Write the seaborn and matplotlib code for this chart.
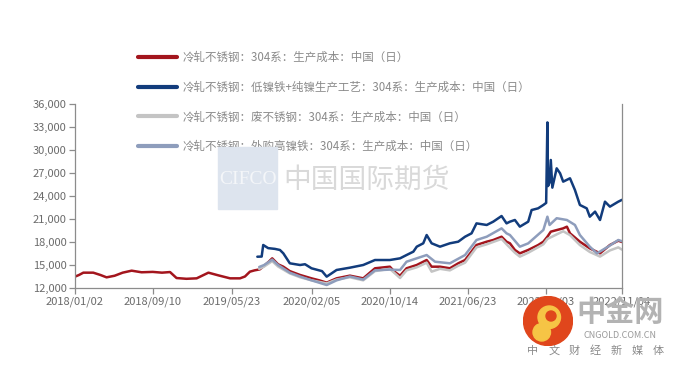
import numpy as np
import pandas as pd
import matplotlib.pyplot as plt
import matplotlib.dates as mdates
from matplotlib.patches import Rectangle, Circle
import seaborn as sns

# 冷轧不锈钢：304系：生产成本：中国（日）
red_dates = ["2018-01-02", "2018-01-15", "2018-01-29", "2018-03-02", "2018-03-25", "2018-04-14",
             "2018-05-10", "2018-06-05", "2018-07-04", "2018-08-05", "2018-09-10", "2018-10-10",
             "2018-11-05", "2018-11-26", "2018-12-28", "2019-01-30", "2019-03-09", "2019-04-10",
             "2019-05-18", "2019-06-19", "2019-07-05", "2019-07-21", "2019-08-05", "2019-08-22",
             "2019-09-05", "2019-09-20", "2019-10-01", "2019-10-20", "2019-11-06", "2019-11-27",
             "2019-12-30", "2020-02-05", "2020-03-01", "2020-03-25", "2020-04-26", "2020-06-08",
             "2020-07-21", "2020-08-28", "2020-10-15", "2020-10-30", "2020-11-17", "2020-12-08",
             "2021-01-10", "2021-02-11", "2021-02-27", "2021-03-26", "2021-04-27", "2021-05-24",
             "2021-06-15", "2021-07-22", "2021-08-24", "2021-09-14", "2021-10-11", "2021-10-27",
             "2021-11-07", "2021-11-23", "2021-12-09", "2022-01-05", "2022-02-06", "2022-02-23",
             "2022-03-08", "2022-03-19", "2022-04-28", "2022-05-10", "2022-05-20", "2022-06-21",
             "2022-07-23", "2022-08-25", "2022-09-26", "2022-10-23", "2022-11-04"]
red_vals = [13480, 13700, 14000, 14000, 13700, 13390,
            13600, 14000, 14260, 14050, 14100, 14000,
            14080, 13300, 13200, 13260, 14000, 13650,
            13260, 13260, 13500, 14130, 14300, 14430,
            14900, 15430, 15870, 15090, 14780, 14200,
            13700, 13260, 13000, 12700, 13260, 13610,
            13260, 14570, 14780, 14130, 13600, 14570,
            15000, 15650, 14780, 14780, 14570, 15220,
            15650, 17610, 18040, 18260, 18690, 18040,
            17830, 16960, 16520, 16960, 17600, 18040,
            18690, 19350, 19780, 20000, 19130, 18040,
            17170, 16520, 17610, 18170, 18000]

# 冷轧不锈钢：低镍铁+纯镍生产工艺：304系：生产成本：中国（日）
navy_dates = ["2019-08-14", "2019-08-28", "2019-09-02", "2019-09-18", "2019-10-10", "2019-10-26",
              "2019-11-06", "2019-11-27", "2019-12-30", "2020-01-15", "2020-02-05", "2020-03-10",
              "2020-03-25", "2020-04-26", "2020-06-08", "2020-07-21", "2020-08-28", "2020-10-15",
              "2020-11-17", "2020-12-08", "2020-12-30", "2021-01-10", "2021-01-31", "2021-02-11",
              "2021-02-27", "2021-03-26", "2021-04-27", "2021-05-24", "2021-06-15", "2021-07-06",
              "2021-07-22", "2021-08-24", "2021-09-14", "2021-10-11", "2021-10-27", "2021-11-07",
              "2021-11-23", "2021-12-09", "2022-01-05", "2022-01-16", "2022-02-06", "2022-02-23",
              "2022-03-04", "2022-03-08", "2022-03-10", "2022-03-15", "2022-03-19", "2022-03-24",
              "2022-04-07", "2022-04-18", "2022-04-28", "2022-05-20", "2022-06-05", "2022-06-21",
              "2022-07-13", "2022-07-23", "2022-08-09", "2022-08-25", "2022-09-10", "2022-09-26",
              "2022-10-23", "2022-11-04"]
navy_vals = [16080, 16100, 17610, 17200, 17100, 16960,
             16520, 15220, 15000, 15100, 14570, 14200,
             13480, 14350, 14650, 15000, 15650, 15650,
             15870, 16300, 16740, 17390, 17830, 18910,
             17830, 17390, 17830, 18040, 18690, 19130,
             20430, 20220, 20650, 21390, 20430, 20650,
             20870, 20000, 20650, 22170, 22390, 22830,
             23100, 33600, 25300, 25740, 28700, 25090,
             27610, 26960, 25870, 26310, 24780, 22830,
             22390, 21300, 21960, 20870, 23260, 22610,
             23260, 23500]

# 冷轧不锈钢：废不锈钢：304系：生产成本：中国（日）
gray_dates = ["2019-08-20", "2019-09-05", "2019-10-01", "2019-10-20", "2019-11-27", "2019-12-30",
              "2020-02-05", "2020-03-25", "2020-04-26", "2020-06-08", "2020-07-21", "2020-08-28",
              "2020-10-15", "2020-11-17", "2020-12-08", "2021-01-10", "2021-02-11", "2021-02-27",
              "2021-03-26", "2021-04-27", "2021-05-24", "2021-06-15", "2021-07-22", "2021-08-24",
              "2021-10-11", "2021-10-27", "2021-11-23", "2021-12-09", "2022-01-05", "2022-02-23",
              "2022-03-08", "2022-04-28", "2022-05-20", "2022-06-21", "2022-07-23", "2022-08-25",
              "2022-09-26", "2022-10-23", "2022-11-04"]
gray_vals = [14500, 14800, 15500, 14800, 13900, 13400,
             13000, 12600, 13100, 13400, 13000, 14200,
             14500, 13300, 14300, 14700, 15300, 14130,
             14500, 14300, 14900, 15300, 17300, 17700,
             18400, 17700, 16600, 16090, 16600, 17700,
             18400, 19400, 18900, 17600, 16700, 16100,
             16900, 17300, 17000]

# 冷轧不锈钢：外购高镍铁：304系：生产成本：中国（日）
steel_dates = ["2019-08-20", "2019-09-05", "2019-10-01", "2019-10-20", "2019-11-27", "2019-12-30",
               "2020-02-05", "2020-03-25", "2020-04-26", "2020-06-08", "2020-07-21", "2020-08-28",
               "2020-10-15", "2020-11-17", "2020-12-08", "2021-02-11", "2021-03-10", "2021-04-27",
               "2021-06-15", "2021-07-22", "2021-08-24", "2021-10-11", "2021-10-27", "2021-11-07",
               "2021-12-09", "2022-01-05", "2022-02-23", "2022-03-08", "2022-03-15", "2022-04-07",
               "2022-05-10", "2022-06-05", "2022-06-21", "2022-07-23", "2022-08-15", "2022-09-20",
               "2022-10-23", "2022-11-04"]
steel_vals = [14740, 15000, 15700, 15000, 14000, 13500,
              13000, 12390, 13000, 13500, 13100, 14300,
              14400, 14350, 15430, 16300, 15430, 15220,
              16300, 18260, 18690, 19780, 19130, 18910,
              17390, 17820, 19570, 21300, 20220, 21100,
              20870, 20220, 18910, 17390, 16520, 17390,
              18260, 18100]

labels = ["冷轧不锈钢：304系：生产成本：中国（日）",
          "冷轧不锈钢：低镍铁+纯镍生产工艺：304系：生产成本：中国（日）",
          "冷轧不锈钢：废不锈钢：304系：生产成本：中国（日）",
          "冷轧不锈钢：外购高镍铁：304系：生产成本：中国（日）"]
colors = ["#a3151d", "#123c7c", "#c4c4c4", "#8e9dbc"]

tick_dates = ["2018-01-02", "2018-09-10", "2019-05-23", "2020-02-05",
              "2020-10-14", "2021-06-23", "2022-03-03", "2022-11-04"]

sns.set_style("white")
plt.rcParams['font.family'] = ['Noto Sans CJK SC', 'DejaVu Sans']

fig = plt.figure(figsize=(6.8, 3.68), dpi=100)
ax = fig.add_axes([75 / 680, 1 - 288 / 368, (622 - 75) / 680, (288 - 104) / 368])

series = [(red_dates, red_vals), (navy_dates, navy_vals),
          (gray_dates, gray_vals), (steel_dates, steel_vals)]
for (d, v), lab, c in zip(series, labels, colors):
    df = pd.DataFrame({"date": pd.to_datetime(d), "value": v})
    sns.lineplot(data=df, x="date", y="value", ax=ax, color=c, linewidth=1.8, label=lab)

ax.set_xlim(pd.Timestamp("2018-01-02"), pd.Timestamp("2022-11-04"))
ax.set_ylim(12000, 36000)
ax.set_yticks(range(12000, 36001, 3000))
ax.yaxis.set_major_formatter(plt.FuncFormatter(lambda v, p: f"{int(v):,}"))
ax.set_xticks(pd.to_datetime(tick_dates))
ax.xaxis.set_major_formatter(mdates.DateFormatter("%Y/%m/%d"))
ax.set_xlabel("")
ax.set_ylabel("")

for s in ["left", "bottom", "right"]:
    ax.spines[s].set_color("#8c8c8c")
    ax.spines[s].set_linewidth(0.9)
ax.spines["top"].set_visible(False)
ax.tick_params(axis="both", length=4, width=0.9, color="#8c8c8c",
               labelsize=8, labelcolor="#6b6b6b", pad=2)
ax.tick_params(axis="y", left=True)
ax.tick_params(axis="x", bottom=True)

leg = ax.legend(loc="upper left", bbox_to_anchor=(138 / 680, 1 - 51 / 368),
                bbox_transform=fig.transFigure, frameon=False, fontsize=8.3,
                handlelength=3.4, handletextpad=0.5, labelspacing=1.45,
                borderpad=0, borderaxespad=0)
for t in leg.get_texts():
    t.set_color("#8a8a8a")
for h in leg.get_lines():
    h.set_linewidth(3)

# CIFCO watermark
fig.patches.append(Rectangle((218 / 680, 1 - 209 / 368), 59 / 680, 62 / 368,
                             transform=fig.transFigure, color="#dde4ee", zorder=0))
fig.text(248 / 680, 1 - 180 / 368, "CIFCO", family=["Liberation Serif", "DejaVu Serif"],
         fontsize=14, color="#f4f6f9", ha="center", va="center")
fig.text(283 / 680, 1 - 180 / 368, "中国国际期货", fontsize=20, color="#d9d9d9",
         ha="left", va="center")

# 中金网 logo
lax = fig.add_axes([523 / 680, 1 - 346 / 368, 50 / 680, 50 / 368])
lax.set_xlim(-1, 1)
lax.set_ylim(-1, 1)
lax.set_aspect("equal")
lax.axis("off")
lax.add_patch(Circle((0, 0), 0.98, color="#e0461c"))
lax.add_patch(Circle((0.05, 0.15), 0.45, color="#f6c445"))
lax.add_patch(Circle((0.12, 0.2), 0.2, color="#e0461c"))
lax.add_patch(Circle((-0.25, -0.45), 0.35, color="#f6c445"))
fig.text(620 / 680, 1 - 312 / 368, "中金网", fontsize=21, fontweight="bold",
         color="#b3b3b3", ha="center", va="center")
fig.text(620 / 680, 1 - 336 / 368, "CNGOLD.COM.CN", fontsize=6.5,
         color="#9a9a9a", ha="center", va="center")
for i, ch in enumerate("中文财经新媒体"):
    fig.text((533 + i * 20.8) / 680, 1 - 351 / 368, ch, fontsize=8,
             color="#8a8a8a", ha="center", va="center")

plt.savefig("out.png", dpi=100)
